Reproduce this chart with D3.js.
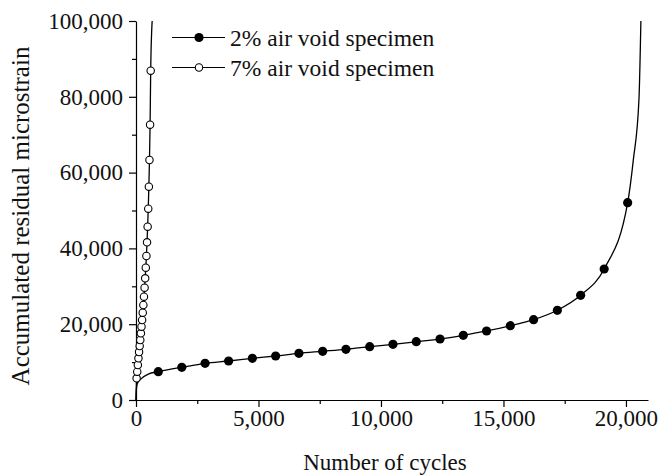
<!DOCTYPE html>
<html>
<head>
<meta charset="utf-8">
<script src="https://cdn.jsdelivr.net/npm/d3@7/dist/d3.min.js"></script>
<style>
  body { margin: 0; background: #fff; }
  svg { display: block; }
  .line { fill: none; stroke: #000; stroke-width: 1.3; }
  text { font-family: "Liberation Serif", "Times New Roman", serif; fill: #111; }
</style>
</head>
<body>
<script>
"use strict";

// 2% air void specimen: marker readings (cycles, microstrain)
var cycles2 = [910, 1870, 2820, 3780, 4750, 5700, 6650, 7620, 8570, 9540, 10490,
               11440, 12410, 13360, 14310, 15280, 16230, 17200, 18150, 19110, 20070];
var strain2 = [7470, 8630, 9680, 10290, 11000, 11610, 12320, 12850, 13380, 14060, 14700,
               15380, 16090, 17070, 18210, 19600, 21190, 23670, 27620, 34560, 52060];
// extra points of the fitted curve before the first and after the last marker
var headCycles2 = [0, 15, 60, 230, 500];
var headStrain2 = [0, 2700, 4400, 5700, 6850];
var tailCycles2 = [20300, 20530, 20610];
var tailStrain2 = [63300, 79200, 100000];

// 7% air void specimen
var cycles7 = [25, 50, 75, 100, 125, 150, 175, 200, 225, 250, 275, 300,
               325, 350, 375, 400, 425, 450, 475, 500, 525, 550, 575, 600];
var strain7 = [5730, 7470, 9230, 11000, 12660, 14250, 15830, 17600, 19340, 21110, 23030, 25070,
               27260, 29630, 32110, 34910, 38000, 41610, 45730, 50480, 56280, 63320, 72640, 86890];
var headCycles7 = [0];
var headStrain7 = [0];
var tailCycles7 = [660];
var tailStrain7 = [100000];

var xMajor = [0, 5000, 10000, 15000, 20000];
var xMinor = [2500, 7500, 12500, 17500];
var yMajor = [0, 20000, 40000, 60000, 80000, 100000];
var yMinor = [10000, 30000, 50000, 70000, 90000];

var seriesNames = ["2% air void specimen", "7% air void specimen"];

var width = 659, height = 475;
var serif = "'Liberation Serif', 'Times New Roman', serif";

var svg = d3.select("body").append("svg")
    .attr("width", width)
    .attr("height", height);

var x = d3.scaleLinear().domain([0, 20900]).range([136, 648]);
var y = d3.scaleLinear().domain([0, 100000]).range([400, 21]);

function zip(a, b) {
    return a.map(function(d, i) { return [d, b[i]]; });
}

var pts2 = zip(cycles2, strain2);
var pts7 = zip(cycles7, strain7);
var curve2 = zip(headCycles2, headStrain2).concat(pts2, zip(tailCycles2, tailStrain2));
var curve7 = zip(headCycles7, headStrain7).concat(pts7, zip(tailCycles7, tailStrain7));

var fmt = d3.format(",");

// axes: major ticks with labels, minor ticks shorter
var xAxisG = svg.append("g").attr("transform", "translate(0,400)");
xAxisG.call(d3.axisBottom(x).tickValues(xMajor).tickSize(7).tickSizeOuter(0).tickPadding(3).tickFormat(fmt));
xAxisG.append("g").call(d3.axisBottom(x).tickValues(xMinor).tickSize(4).tickFormat(""))
    .select(".domain").remove();

var yAxisG = svg.append("g").attr("transform", "translate(136,0)");
yAxisG.call(d3.axisLeft(y).tickValues(yMajor).tickSize(7).tickSizeOuter(0).tickPadding(6).tickFormat(fmt));
yAxisG.append("g").call(d3.axisLeft(y).tickValues(yMinor).tickSize(4).tickFormat(""))
    .select(".domain").remove();

svg.selectAll(".domain, .tick line").attr("stroke", "#000").attr("stroke-width", 1.2);
svg.selectAll(".tick text")
    .attr("font-family", serif)
    .attr("font-size", 23)
    .attr("fill", "#111");

// curves
var line = d3.line()
    .x(function(d) { return x(d[0]); })
    .y(function(d) { return y(d[1]); })
    .curve(d3.curveMonotoneX);

svg.append("path").datum(curve2).attr("class", "line").attr("d", line);
svg.append("path").datum(curve7).attr("class", "line").attr("d", line);

svg.append("g").selectAll("circle")
    .data(pts7)
    .enter().append("circle")
    .attr("cx", function(d) { return x(d[0]); })
    .attr("cy", function(d) { return y(d[1]); })
    .attr("r", 3.7)
    .attr("fill", "#fff")
    .attr("stroke", "#000")
    .attr("stroke-width", 1.1);

svg.append("g").selectAll("circle")
    .data(pts2)
    .enter().append("circle")
    .attr("cx", function(d) { return x(d[0]); })
    .attr("cy", function(d) { return y(d[1]); })
    .attr("r", 4.6)
    .attr("fill", "#000");

// legend
var legend = svg.append("g");
seriesNames.forEach(function(name, i) {
    var ly = 37.5 + i * 30;
    legend.append("line")
        .attr("x1", 172).attr("x2", 225)
        .attr("y1", ly).attr("y2", ly)
        .attr("stroke", "#000").attr("stroke-width", 1.2);
    legend.append("circle")
        .attr("cx", 199).attr("cy", ly)
        .attr("r", i == 0 ? 4.6 : 3.7)
        .attr("fill", i == 0 ? "#000" : "#fff")
        .attr("stroke", "#000")
        .attr("stroke-width", i == 0 ? 0 : 1.1);
    legend.append("text")
        .attr("x", 230).attr("y", ly + 8)
        .attr("font-family", serif)
        .attr("font-size", 23.5)
        .text(name);
});

// axis titles
svg.append("text")
    .attr("x", 385).attr("y", 470)
    .attr("text-anchor", "middle")
    .attr("font-family", serif)
    .attr("font-size", 23)
    .text("Number of cycles");

svg.append("text")
    .attr("transform", "translate(29,216) rotate(-90)")
    .attr("text-anchor", "middle")
    .attr("font-family", serif)
    .attr("font-size", 25)
    .text("Accumulated residual microstrain");
</script>
</body>
</html>
